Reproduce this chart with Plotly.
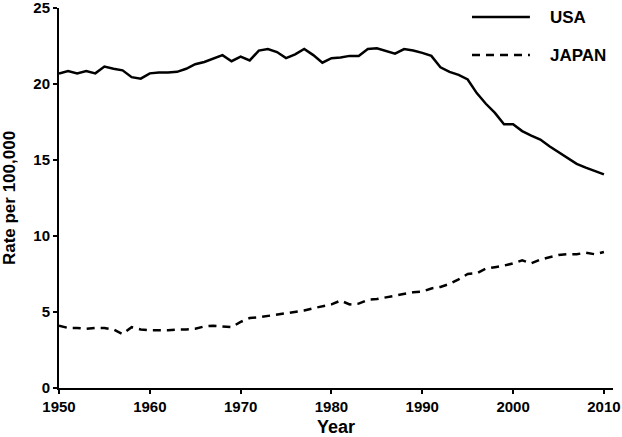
import plotly.graph_objects as go

# ── Data ─────────────────────────────────────────────────────────────────────
years = list(range(1950, 2011))

usa_rate = [
    20.68, 20.86, 20.70, 20.85, 20.70, 21.15, 21.00, 20.90, 20.45, 20.35,  # 1950s
    20.70, 20.75, 20.75, 20.80, 21.00, 21.30, 21.45, 21.65, 21.90, 21.50,  # 1960s
    21.80, 21.55, 22.20, 22.30, 22.10, 21.70, 21.95, 22.30, 21.90, 21.40,  # 1970s
    21.70, 21.75, 21.85, 21.85, 22.30, 22.35, 22.20, 22.00, 22.30, 22.20,  # 1980s
    22.05, 21.85, 21.10, 20.80, 20.60, 20.30, 19.40, 18.70, 18.10, 17.35,  # 1990s
    17.35, 16.90, 16.60, 16.35, 15.90, 15.50, 15.10, 14.75, 14.50, 14.30,  # 2000s
    14.05,
]

japan_rate = [
    4.10, 3.95, 3.95, 3.90, 3.95, 3.95, 3.85, 3.55, 4.00, 3.85,
    3.80, 3.80, 3.80, 3.85, 3.85, 3.90, 4.05, 4.10, 4.05, 4.00,
    4.35, 4.60, 4.65, 4.75, 4.85, 4.90, 5.00, 5.10, 5.25, 5.35,
    5.50, 5.75, 5.50, 5.55, 5.80, 5.85, 5.95, 6.05, 6.20, 6.30,
    6.35, 6.55, 6.65, 6.85, 7.15, 7.50, 7.55, 7.85, 7.95, 8.05,
    8.20, 8.40, 8.20, 8.45, 8.60, 8.75, 8.80, 8.80, 8.90, 8.80,
    8.95,
]

x_ticks = [1950, 1960, 1970, 1980, 1990, 2000, 2010]
y_ticks = [0, 5, 10, 15, 20, 25]

FONT = "Liberation Sans, Arial, sans-serif"
JAPAN_DASH = "8px,6px"

fig = go.Figure()
fig.add_trace(go.Scatter(
    x=years, y=usa_rate, mode="lines", name="USA",
    line=dict(color="black", width=2.5),
))
fig.add_trace(go.Scatter(
    x=years, y=japan_rate, mode="lines", name="JAPAN",
    line=dict(color="black", width=2.5, dash=JAPAN_DASH),
))

# ── Legend drawn by hand so the sample lines match the original's length ─────
for y_pos, label, dash in [(0.976, "USA", "solid"), (0.876, "JAPAN", JAPAN_DASH)]:
    fig.add_shape(
        type="line", xref="paper", yref="paper",
        x0=0.7455, x1=0.850, y0=y_pos, y1=y_pos,
        line=dict(color="black", width=2.5, dash=dash),
    )
    fig.add_annotation(
        xref="paper", yref="paper", x=0.8827, y=y_pos,
        text=f"<b>{label}</b>", showarrow=False,
        xanchor="left", yanchor="middle",
        font=dict(family=FONT, size=17, color="black"),
    )

axis_common = dict(
    showgrid=False, zeroline=False, automargin=False,
    showline=True, linecolor="black", linewidth=2,
    ticks="outside", ticklen=4, tickwidth=2, tickcolor="black",
    ticklabeloverflow="allow",
    tickfont=dict(family=FONT, size=15, color="black", weight="bold"),
)

fig.update_layout(
    width=622, height=437,
    margin=dict(l=59, r=9, t=8, b=49),
    paper_bgcolor="white", plot_bgcolor="white",
    showlegend=False,
    font=dict(family=FONT, color="black"),
    xaxis=dict(
        range=[1950, 2011], tickvals=x_ticks,
        title=dict(text="<b>Year</b>", font=dict(family=FONT, size=18), standoff=6),
        **axis_common,
    ),
    yaxis=dict(
        range=[0, 25], tickvals=y_ticks,
        title=dict(text="<b>Rate per 100,000</b>", font=dict(family=FONT, size=17), standoff=16),
        **axis_common,
    ),
)

# page body has a default 8px margin; drop it so the figure sits at the corner
fig.write_html(
    "out.html",
    config={"displayModeBar": False},
    post_script="document.body.style.margin='0';",
)
